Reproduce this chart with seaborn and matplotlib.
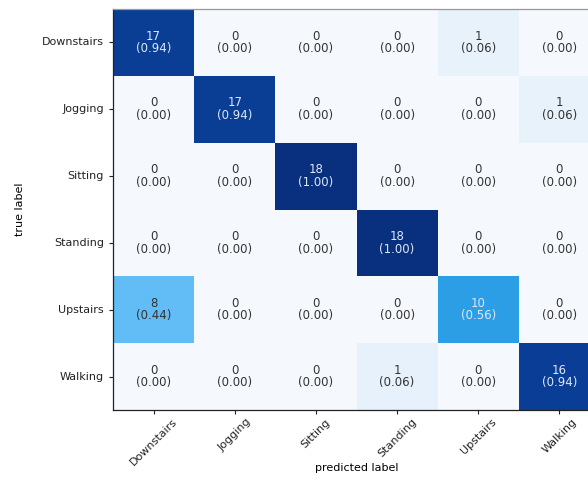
import numpy as np
import pandas as pd
import matplotlib
matplotlib.use("Agg")
import matplotlib.pyplot as plt
from matplotlib.colors import LinearSegmentedColormap
import seaborn as sns

classes = ["Downstairs", "Jogging", "Sitting", "Standing", "Upstairs", "Walking"]

# confusion counts, one list per true class (columns = predicted class)
row_downstairs = [17, 0, 0, 0, 1, 0]
row_jogging = [0, 17, 0, 0, 0, 1]
row_sitting = [0, 0, 18, 0, 0, 0]
row_standing = [0, 0, 0, 18, 0, 0]
row_upstairs = [8, 0, 0, 0, 10, 0]
row_walking = [0, 0, 0, 1, 0, 16]

counts = np.array([row_downstairs, row_jogging, row_sitting,
                   row_standing, row_upstairs, row_walking])
norm = counts / counts.sum(axis=1, keepdims=True)
df = pd.DataFrame(norm, index=classes, columns=classes)

labels = np.array([[f"{c}\n({p:.2f})" for c, p in zip(crow, prow)]
                   for crow, prow in zip(counts, norm)])

# vivid blue ramp
vivid_blues = LinearSegmentedColormap.from_list(
    "vivid_blues",
    [(0.0, "#f5f9fe"), (0.06, "#e6f1fb"), (0.44, "#63bdf5"),
     (0.56, "#2b9de6"), (0.94, "#0a3e96"), (1.0, "#08307f")])

fig = plt.figure(figsize=(5.88, 4.83), dpi=100)
ax = fig.add_axes([113 / 588, 1 - 410 / 483, 487 / 588, 401 / 483])

sns.heatmap(df, ax=ax, cmap=vivid_blues, vmin=0, vmax=1, cbar=False,
            annot=False, square=False)

thresh = norm.max() / 2
for i in range(len(classes)):
    for j in range(len(classes)):
        ax.text(j + 0.5, i + 0.5, labels[i, j], ha="center", va="center",
                fontsize=8.5, linespacing=0.95,
                color="#dde8f8" if norm[i, j] > thresh else "#333333")

for side, sp in ax.spines.items():
    sp.set_visible(True)
    sp.set_linewidth(0.9)
    sp.set_color("#222222" if side in ("left", "bottom") else "#999999")

ax.tick_params(axis="both", length=3, width=0.8, labelsize=8, colors="#222222")
ax.tick_params(axis="x", pad=2)
ax.set_xticks(np.arange(len(classes)) + 0.5)
ax.set_yticks(np.arange(len(classes)) + 0.5)
ax.set_xticklabels(classes, rotation=45, ha="center")
ax.set_yticklabels(classes, rotation=0)
ax.set_xlabel("predicted label", fontsize=8)
ax.xaxis.set_label_coords(0.5, -0.133)
ax.set_ylabel("true label", fontsize=8, labelpad=12)

fig.savefig("out.png", dpi=100)
